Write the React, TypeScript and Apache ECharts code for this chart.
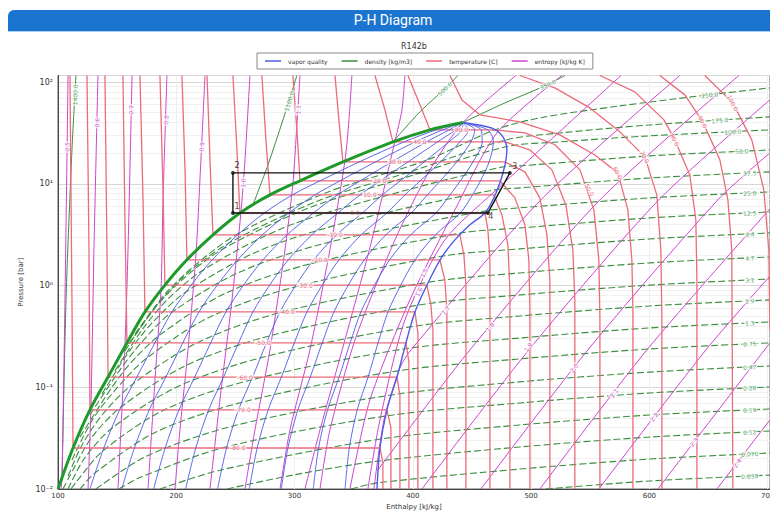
import React, { useEffect, useRef } from 'react';
import * as echarts from 'echarts';

type Pt = [number, number];

// ---------- axes ----------
const H_MIN = 100;
const H_MAX = 702;
const P_MIN = 0.01;
const P_MAX = 116;
const xTickValues = [100, 200, 300, 400, 500, 600, 700];
const yTickValues = [0.01, 0.1, 1, 10, 100];
const yTickLabels = ['10⁻²', '10⁻¹', '10⁰', '10¹', '10²'];

// ---------- saturation dome ----------
const satLiquid: Pt[] = [
  [100, 0.01], [112.7, 0.0253], [127, 0.06], [142.3, 0.126], [158.3, 0.273], [173.5, 0.55],
  [190.4, 1.01], [209, 1.79], [231, 3.15], [253.8, 5.17], [279.2, 7.78], [304.6, 10.7],
  [341, 16.4], [383.2, 25.8], [414.5, 33.9], [442.3, 40],
];
const satVapor: Pt[] = [
  [369.7, 0.01], [372.2, 0.0253], [378.1, 0.06], [386.6, 0.126], [394.2, 0.273], [401.8, 0.55],
  [412.8, 1.06], [424.6, 1.91], [435.6, 2.81], [448.3, 3.95], [461, 5.17], [467.7, 6.95],
  [473.6, 10.2], [477.9, 15.3], [479.5, 21.5], [476.2, 28.9], [466.9, 35.2], [442.3, 40],
];

// ---------- vapor quality lines (enthalpy at each pressure) ----------
const qualityPressures = [0.01, 0.0253, 0.06, 0.126, 0.273, 0.55, 1.01, 1.79, 3.15, 5.17, 7.78, 10.7, 16.4, 25.8, 33.9, 40];
const qualityEnthalpies: number[][] = [
  [127, 138.7, 152.1, 166.7, 181.9, 196.3, 212.6, 230.4, 251.9, 274.5, 298.2, 321.6, 354.7, 392.6, 419.9, 442.3],
  [153.9, 164.6, 177.2, 191.2, 205.5, 219.2, 234.7, 251.9, 272.8, 295.2, 317.2, 338.5, 368.4, 402.1, 425.3, 442.3],
  [180.9, 190.6, 202.3, 215.6, 229.1, 242, 256.9, 273.3, 293.7, 316, 336.3, 355.5, 382.2, 411.5, 430.8, 442.3],
  [207.9, 216.5, 227.4, 240, 252.7, 264.8, 279, 294.7, 314.6, 336.7, 355.3, 372.4, 395.9, 420.9, 436.2, 442.3],
  [234.9, 242.5, 252.6, 264.5, 276.3, 287.7, 301.2, 316.2, 335.5, 357.4, 374.3, 389.4, 409.6, 430.4, 441.6, 442.3],
  [261.8, 268.4, 277.7, 288.9, 299.8, 310.5, 323.4, 337.6, 356.3, 378.1, 393.3, 406.3, 423.3, 439.8, 447, 442.3],
  [288.8, 294.4, 302.8, 313.3, 323.4, 333.3, 345.5, 359, 377.2, 398.8, 412.3, 423.3, 437, 449.2, 452.4, 442.3],
  [315.8, 320.3, 327.9, 337.7, 347, 356.1, 367.7, 380.4, 398.1, 419.6, 431.4, 440.2, 450.8, 458.6, 457.9, 442.3],
  [342.7, 346.3, 353, 362.2, 370.6, 379, 389.8, 401.9, 419, 440.3, 450.4, 457.2, 464.5, 468.1, 463.3, 442.3],
];

// ---------- isotherms ----------
const isothermLabels = ['-80.0', '-70.0', '-60.0', '-50.0', '-40.0', '-30.0', '-20.0', '-10.0', '0.0', '10.0', '20.0', '30.0', '40.0', '50.0', '60.0', '70.0', '80.0', '90.0', '100.0'];
const isothermPaths: Pt[][] = [
  [[110.1, 116], [111.8, 0.722], [112.7, 0.0253], [372.2, 0.0253], [374.7, 0.0184], [374.7, 0.01]],
  [[124.5, 116], [126.2, 2.24], [127, 0.06], [378.1, 0.06], [381.5, 0.0398], [381.5, 0.01]],
  [[139.7, 116], [141.4, 2.24], [142.3, 0.126], [386.6, 0.126], [389.1, 0.0839], [389.1, 0.01]],
  [[154.9, 116], [156.6, 4.42], [158.3, 0.273], [394.2, 0.273], [396.7, 0.177], [396.7, 0.01]],
  [[169.3, 116], [171.9, 6.95], [173.5, 0.55], [401.8, 0.55], [404.3, 0.342], [404.3, 0.01]],
  [[186.2, 116], [188.8, 8.71], [190.4, 1.01], [411.9, 1.01], [415.3, 0.644], [417, 0.366], [417, 0.01]],
  [[204.8, 116], [207.4, 13.7], [209, 1.79], [422.9, 1.79], [427.1, 1.13], [428.8, 0.575], [428.8, 0.01]],
  [[226, 116], [228.5, 17.2], [231, 3.15], [439.8, 3.15], [443.2, 2.0], [444.9, 1.01], [444.9, 0.01]],
  [[247.9, 116], [251.3, 21.5], [253.8, 5.17], [461, 5.17], [463.5, 3.52], [465.2, 1.79], [465.2, 0.01]],
  [[272.4, 116], [275.8, 27.0], [279.2, 7.78], [468.6, 7.78], [475.3, 4.94], [480.4, 2.51], [482.1, 0.906], [482.1, 0.01]],
  [[298.6, 116], [302, 33.9], [304.6, 10.7], [473.6, 10.7], [486.3, 7.27], [494.8, 3.95], [498.1, 1.79], [499, 0.575], [499, 0.01]],
  [[334.2, 116], [337.5, 42.5], [340.9, 16.4], [477.9, 16.4], [494.8, 13.1], [507.4, 7.27], [513.4, 3.15], [515.9, 1.13], [515.9, 0.01]],
  [[368, 116], [376.4, 53.3], [383.2, 25.8], [477.9, 25.8], [499, 21.5], [517.6, 13.7], [529.4, 6.2], [535.3, 2.24], [537, 0.722], [537, 0.01]],
  [[395.9, 116], [406, 59.7], [414.5, 33.9], [468.6, 33.9], [494.8, 31.6], [520.1, 24.2], [541.3, 13.7], [553.1, 5.54], [557.3, 1.79], [558.2, 0.459], [558.2, 0.01]],
  [[431.4, 116], [441.5, 66.8], [456.7, 47.6], [490.5, 40.6], [524.3, 30.3], [553.9, 19.2], [573.4, 12.8], [581.8, 5.54], [585.2, 1.79], [586.1, 0.575], [586.1, 0.01]],
  [[490.5, 116], [520.1, 87.7], [549.7, 55.7], [575.1, 32.4], [596.2, 18.4], [606.3, 7.78], [609.7, 2.24], [610.6, 0.459], [610.6, 0.01]],
  [[558.2, 116], [587.7, 80.1], [612.3, 42.5], [621.6, 27.0], [634.2, 12.2], [639.3, 4.42], [640.2, 1.13], [640.2, 0.01]],
  [[608.9, 116], [630, 74.8], [645.2, 40.6], [659.6, 17.2], [666.4, 6.95], [669.7, 2.24], [670.6, 0.01]],
  [[646.9, 116], [670.6, 62.4], [686.6, 27.0], [696.8, 8.71], [701, 2.24], [701.9, 0.366]],
];
const isothermDomeLabelAt: Pt[] = [
  [252.1, 0.0253], [256.4, 0.06], [258.1, 0.126], [273.3, 0.273], [293.6, 0.55], [308.8, 1.01], [321.5, 1.79],
  [334.2, 3.15], [351.1, 5.17], [363.7, 7.78], [372.2, 10.7], [384.9, 16.4], [406, 25.8], [441, 33.9],
];
const isothermArcLabelAt: Pt[] = [[549.7, 8.71], [573.4, 12.8], [596.2, 18.4], [621.6, 27.0], [645.2, 40.6], [670.6, 62.4]];

// ---------- density lines ----------
const densityLabels = ['250.0', '175.0', '100.0', '50.0', '37.5', '25.0', '12.5', '9.4', '4.7', '3.1', '1.9', '1.3', '0.75', '0.47', '0.28', '0.19', '0.12', '0.070', '0.038'];
const densityPaths: Pt[][] = [
  [[165.1, 0.334], [191.3, 0.845], [219.2, 1.71], [254.7, 3.37], [330.8, 8.51], [410.2, 16.8], [469.4, 33.9], [507.4, 44.5], [575.1, 58.3], [642.7, 73.1], [701.9, 87.7]],
  [[160, 0.267], [185.4, 0.674], [210.7, 1.36], [246.2, 2.68], [319.8, 6.79], [400.1, 13.4], [478.7, 27.0], [524.3, 31.6], [600.4, 37.9], [701.9, 45.5]],
  [[156.6, 0.228], [180.3, 0.575], [205.7, 1.16], [239.5, 2.29], [312.2, 5.8], [392.5, 11.4], [478.7, 23.1], [524.3, 25.8], [600.4, 29.6], [701.9, 33.9]],
  [[148.2, 0.145], [171, 0.366], [193, 0.738], [224.3, 1.46], [290.2, 3.68], [370.5, 7.27], [476.9, 14.7], [490.5, 15.0], [600.4, 18.8], [701.9, 21.5]],
  [[137.2, 0.0859], [159.2, 0.217], [180.3, 0.438], [208.2, 0.865], [269.9, 2.19], [348.5, 4.32], [468.6, 8.71], [490.5, 9.12], [600.4, 11.4], [701.9, 13.1]],
  [[127, 0.0534], [149.9, 0.135], [170.2, 0.273], [195.5, 0.538], [253.8, 1.36], [329.9, 2.68], [461.8, 5.42], [490.5, 5.8], [600.4, 7.27], [701.9, 8.32]],
  [[118.6, 0.0324], [140.6, 0.082], [160, 0.166], [186.2, 0.327], [240.3, 0.826], [313, 1.63], [441.5, 3.29], [490.5, 3.68], [600.4, 4.62], [701.9, 5.29]],
  [[111.8, 0.0193], [129.6, 0.0488], [149.9, 0.0984], [175.2, 0.194], [228.5, 0.491], [300.3, 0.969], [425.4, 1.95], [490.5, 2.29], [600.4, 2.87], [701.9, 3.29]],
  [[108.5, 0.0134], [120.3, 0.0271], [138, 0.0546], [163.4, 0.108], [217.5, 0.273], [286.8, 0.538], [413.6, 1.08], [490.5, 1.33], [600.4, 1.67], [701.9, 1.91]],
  [[104.2, 0.01], [113.5, 0.0161], [128.7, 0.0324], [153.3, 0.064], [207.4, 0.162], [278.4, 0.319], [405.2, 0.644], [490.5, 0.809], [600.4, 1.01], [701.9, 1.16]],
  [[108.5, 0.01], [122, 0.0197], [144.8, 0.0389], [198.9, 0.0984], [270.8, 0.194], [397.5, 0.392], [490.5, 0.502], [600.4, 0.63], [701.9, 0.722]],
  [[111, 0.01], [116.1, 0.012], [138, 0.0237], [189.6, 0.0598], [263.1, 0.118], [392.5, 0.238], [490.5, 0.305], [600.4, 0.383], [701.9, 0.438]],
  [[118.6, 0.01], [131.3, 0.0144], [182.8, 0.0363], [256.4, 0.0716], [387.4, 0.145], [490.5, 0.19], [600.4, 0.238], [701.9, 0.273]],
  [[132.1, 0.01], [175.2, 0.0211], [247.9, 0.0416], [381.5, 0.0839], [490.5, 0.113], [600.4, 0.141], [701.9, 0.162]],
  [[151.6, 0.01], [170.2, 0.0131], [242, 0.0259], [377.3, 0.0522], [490.5, 0.0701], [600.4, 0.0879], [701.9, 0.1007]],
  [[186.2, 0.01], [237.8, 0.0154], [373, 0.031], [490.5, 0.0426], [600.4, 0.0534], [701.9, 0.0612]],
  [[242.9, 0.01], [298.6, 0.0137], [370.5, 0.0188], [490.5, 0.0259], [600.4, 0.0324], [701.9, 0.0372]],
  [[347.7, 0.01], [370.5, 0.0115], [490.5, 0.0157], [600.4, 0.0197], [701.9, 0.0226]],
  [[512.5, 0.01], [600.4, 0.012], [701.9, 0.0137]],
];
const densityLabelAt: Pt[] = [
  [651.1, 75], [659.6, 42.2], [670.6, 32.5], [678.2, 20.9], [684.9, 12.7], [684.9, 8.1], [684.9, 5.15], [684.9, 3.2],
  [684.9, 1.86], [684.9, 1.13], [684.9, 0.706], [684.9, 0.428], [684.9, 0.267], [684.9, 0.158], [684.9, 0.0984],
  [684.9, 0.0598], [684.9, 0.0363], [684.9, 0.0221], [684.9, 0.0134],
];
const denseLabels = ['350.0', '500.0', '1100.0', '1400.0'];
const densePaths: Pt[][] = [
  [[442.3, 40], [477.9, 62.4], [511.7, 91.8], [528.6, 116]],
  [[383.2, 25.8], [406, 50.9], [428.8, 89.7], [438.1, 116]],
  [[264.8, 6.2], [277.5, 15.3], [290.2, 42.5], [302, 116]],
  [[103.4, 0.0123], [106.8, 0.722], [111.8, 21.5], [115.2, 116]],
];
const denseLabelAt: Pt[] = [[514, 95], [427, 86], [295.4, 65], [114.4, 75]];
const denseLabelAngle = [23, 43, 73, 88];

// ---------- isentropes ----------
const entropyPaths: Pt[][] = [
  [[108.5, 116], [105.9, 0.722], [103.4, 0.0128], [102.5, 0.01]],
  [[133.8, 116], [130.4, 2.24], [127.9, 0.067], [125.4, 0.01]],
  [[162.6, 116], [159.2, 2.24], [156.6, 0.261], [150.7, 0.01]],
  [[192.1, 116], [188.8, 6.95], [187.1, 0.906], [182, 0.118], [176.1, 0.01]],
  [[224.3, 116], [220, 10.9], [216.7, 2.05], [209.9, 0.233], [203.1, 0.038], [198.9, 0.01]],
  [[262.3, 116], [258.1, 17.2], [254.7, 5.29], [247.1, 0.722], [236.9, 0.075], [228.5, 0.01]],
  [[304.6, 116], [301.2, 27.0], [298.6, 9.98], [291.9, 2.24], [279.2, 0.233], [266.5, 0.038], [258.1, 0.01]],
  [[348.5, 116], [346, 42.5], [342.6, 16.8], [329.9, 2.24], [313, 0.233], [296.1, 0.038], [287.7, 0.01]],
  [[393.3, 116], [390.8, 53.3], [384.9, 26.4], [365.4, 2.81], [342.6, 0.292], [321.5, 0.038], [308.8, 0.01]],
  [[321.5, 0.01], [329.9, 0.038], [351.1, 0.292], [384.9, 2.81], [414.5, 13.7], [442.3, 40], [487.2, 116]],
  [[346.8, 0.01], [363.7, 0.075], [397.5, 0.722], [435.6, 5.54], [471.1, 31.6], [526, 116]],
  [[362, 0.01], [372.2, 0.0477], [393.3, 0.459], [427.1, 2.81], [475.3, 9.75], [576, 116]],
  [[367.1, 0.01], [375.6, 0.0477], [389.1, 0.155], [398.4, 0.233], [508.3, 6.95], [625.8, 116]],
  [[370.5, 0.0154], [448.3, 0.233], [558.2, 6.95], [675.7, 116]],
  [[407.7, 0.01], [498.1, 0.233], [608, 6.95], [701.9, 66.8]],
  [[457.6, 0.01], [548, 0.233], [657.9, 6.95], [701.9, 20.1]],
  [[507.4, 0.01], [597.9, 0.233], [701.9, 5.67]],
  [[557.3, 0.01], [647.8, 0.233], [701.9, 1.24]],
  [[607.2, 0.01], [701.9, 0.273]],
  [[657.1, 0.01], [701.9, 0.0477]],
];
const entropyLabels = ['0.5', '0.6', '0.7', '0.8', '0.9', '1.0', '1.1', '1.5', '1.6', '1.7', '1.8', '1.9', '2.0', '2.1', '2.2', '2.3', '2.4'];
const entropyLabelAt: Pt[] = [
  [107.6, 23.1], [133, 40], [161.7, 53.3], [191.3, 42.5], [221.4, 23.1], [256.4, 10.2], [302.9, 53.3],
  [409.4, 1.33], [405.2, 0.865], [427.7, 0.575], [465.2, 0.392],
  [497.3, 0.249], [536.2, 0.155], [570, 0.0879], [603.8, 0.051], [637.6, 0.029], [674, 0.018],
];
const entropyLabelAngle = [88, 88, 88, 88, 87, 86, 86, 63, 63, 49, 49, 52, 52, 52, 52, 52, 52];

// ---------- refrigeration cycle ----------
const cycleNames = ['1', '2', '3', '4'];
const cyclePoints: Pt[] = [[247.9, 5.17], [247.9, 12.8], [482.1, 12.8], [463.5, 5.17]];
const cycleLabelAt: Pt[] = [[251.3, 5.93], [251.3, 15.0], [486.3, 14.7], [466, 4.73]];

// ---------- styling ----------
const C_BLUE = '#4f5ae6';
const C_RED = '#ec6b7b';
const C_MAG = '#cc44cc';
const C_GREEN = '#3a8f3e';
const C_LIQ = '#1d9a2a';
const FONT = 'DejaVu Sans, sans-serif';

function lineSeries(name: string, data: Pt[], color: string, width: number, extra: any = {}) {
  return {
    type: 'line',
    name,
    data,
    showSymbol: false,
    symbol: 'none',
    silent: true,
    clip: true,
    z: extra.z ?? 2,
    smooth: extra.smooth ?? false,
    itemStyle: { color },
    lineStyle: { color, width, type: extra.dash ?? 'solid', opacity: extra.opacity ?? 1 },
    emphasis: { disabled: true },
  };
}

function labelItem(at: Pt, text: string, color: string, rotate: number, bg = true) {
  return {
    value: at,
    label: {
      show: true,
      formatter: text,
      color,
      rotate,
      position: 'inside',
      fontSize: 6,
      fontFamily: FONT,
      backgroundColor: bg ? 'rgba(255,255,255,0.85)' : 'transparent',
      padding: [0, 1],
    },
  };
}

function buildOption(): any {
  const series: any[] = [];
  densityPaths.forEach((d) => series.push(lineSeries('density [kg/m3]', d, C_GREEN, 1.1, { dash: [7, 3], smooth: 0.3, z: 1 })));
  densePaths.forEach((d) => series.push(lineSeries('density [kg/m3]', d, C_GREEN, 1, { smooth: 0.3, z: 1 })));
  entropyPaths.forEach((d) => series.push(lineSeries('entropy [kJ/kg K]', d, C_MAG, 1, { smooth: 0.25, z: 2 })));
  isothermPaths.forEach((d) => series.push(lineSeries('temperature [C]', d, C_RED, 1.3, { z: 3 })));
  qualityEnthalpies.forEach((row) =>
    series.push(lineSeries('vapor quality', row.map((h, j) => [h, qualityPressures[j]] as Pt), C_BLUE, 0.9, { smooth: 0.3, z: 4 })),
  );
  series.push(lineSeries('vapor quality', satVapor, C_BLUE, 1.4, { smooth: 0.3, z: 5 }));
  series.push(lineSeries('saturated liquid', satLiquid, C_LIQ, 3, { smooth: 0.3, z: 5 }));
  series.push(lineSeries('cycle', [...cyclePoints, cyclePoints[0]], '#111', 1.4, { z: 8 }));

  const labels: any[] = [];
  isothermDomeLabelAt.forEach((p, i) => labels.push(labelItem(p, isothermLabels[i], '#e0405a', 0)));
  isothermArcLabelAt.forEach((p, i) => labels.push(labelItem(p, isothermLabels[13 + i], '#e0405a', -62)));
  densityLabelAt.forEach((p, i) => labels.push(labelItem(p, densityLabels[i], '#2f8f3f', i < 3 ? 6 : 3)));
  denseLabelAt.forEach((p, i) => labels.push(labelItem(p, denseLabels[i], '#2f8f3f', denseLabelAngle[i])));
  entropyLabelAt.forEach((p, i) => labels.push(labelItem(p, entropyLabels[i], '#c030c0', entropyLabelAngle[i])));
  series.push({
    type: 'scatter',
    name: 'labels',
    data: labels,
    symbolSize: 0,
    silent: true,
    z: 6,
    emphasis: { disabled: true },
  });
  series.push({
    type: 'scatter',
    name: 'cycle points',
    data: cyclePoints,
    symbolSize: 4,
    itemStyle: { color: '#111' },
    silent: true,
    z: 9,
    emphasis: { disabled: true },
  });
  series.push({
    type: 'scatter',
    name: 'cycle labels',
    data: cycleLabelAt.map((p, i) => ({
      value: p,
      label: { show: true, formatter: cycleNames[i], color: '#111', fontSize: 8, fontFamily: FONT, position: 'inside' },
    })),
    symbolSize: 0,
    silent: true,
    z: 9,
    emphasis: { disabled: true },
  });

  return {
    animation: false,
    backgroundColor: '#fff',
    textStyle: { fontFamily: FONT },
    graphic: [
      {
        type: 'text',
        left: 406 - 13,
        top: 10,
        style: { text: 'R142b', fontSize: 8, fill: '#333', fontFamily: FONT },
        silent: true,
      },
    ],
    legend: {
      left: 249,
      top: 21,
      data: ['vapor quality', 'density [kg/m3]', 'temperature [C]', 'entropy [kJ/kg K]'],
      icon: 'rect',
      itemWidth: 16,
      itemHeight: 1.5,
      itemGap: 14,
      padding: [5, 8],
      borderColor: '#888',
      borderWidth: 1,
      textStyle: { fontSize: 6, color: '#333', fontFamily: FONT, padding: [0, 0, 0, 2] },
      selectedMode: false,
    },
    grid: {
      left: 50,
      top: 43.5,
      right: 8,
      bottom: 22,
      show: true,
      borderColor: '#666',
      borderWidth: 1,
      containLabel: false,
      outerBoundsMode: 'none',
    },
    xAxis: {
      type: 'value',
      min: H_MIN,
      max: H_MAX,
      interval: 100,
      name: 'Enthalpy [kJ/kg]',
      nameLocation: 'middle',
      nameGap: 13,
      nameTextStyle: { fontSize: 7, color: '#333', fontFamily: FONT },
      axisLine: { show: true, lineStyle: { color: '#444' } },
      axisTick: { show: false },
      axisLabel: {
        fontSize: 7,
        color: '#333',
        margin: 3,
        formatter: (v: number) => (xTickValues.some((t) => Math.abs(t - v) < 1e-6) ? String(v) : ''),
      },
      splitLine: { show: true, lineStyle: { color: '#efefef' } },
    },
    yAxis: {
      type: 'log',
      logBase: 10,
      min: P_MIN,
      max: P_MAX,
      name: 'Pressure [bar]',
      nameLocation: 'middle',
      nameGap: 28,
      nameTextStyle: { fontSize: 7, color: '#333', fontFamily: FONT },
      axisLine: { show: true, lineStyle: { color: '#444' } },
      axisTick: { show: false },
      axisLabel: {
        fontSize: 8,
        color: '#333',
        margin: 5,
        formatter: (v: number) => {
          const i = yTickValues.findIndex((t) => Math.abs(Math.log10(v) - Math.log10(t)) < 1e-4);
          return i >= 0 ? yTickLabels[i] : '';
        },
      },
      splitLine: { show: true, lineStyle: { color: '#d8d8d8' } },
      minorTick: { show: false, splitNumber: 9 },
      minorSplitLine: { show: true, lineStyle: { color: '#f1f1f1' } },
    },
    series,
  };
}

export default function App() {
  const ref = useRef<HTMLDivElement>(null);
  useEffect(() => {
    if (!ref.current) return;
    const chart = echarts.init(ref.current, undefined, { renderer: 'svg' });
    chart.setOption(buildOption());
    return () => chart.dispose();
  }, []);
  return (
    <div style={{ position: 'relative', width: 770, height: 503, fontFamily: 'Roboto, DejaVu Sans, sans-serif' }}>
      <div
        style={{
          position: 'absolute',
          left: 0,
          top: 2,
          width: 770,
          height: 21,
          background: '#1b75d0',
          borderTopLeftRadius: 6,
          color: '#fff',
          fontSize: 14,
          lineHeight: '21px',
          textAlign: 'center',
          borderBottom: '2px solid #a9cff2',
        }}
      >
        P-H Diagram
      </div>
      <div style={{ position: 'absolute', left: 0, top: 25, width: 1, height: 478, background: '#e4e4e4' }} />
      <div ref={ref} style={{ position: 'absolute', left: 0, top: 24, width: 770, height: 479 }} />
    </div>
  );
}
